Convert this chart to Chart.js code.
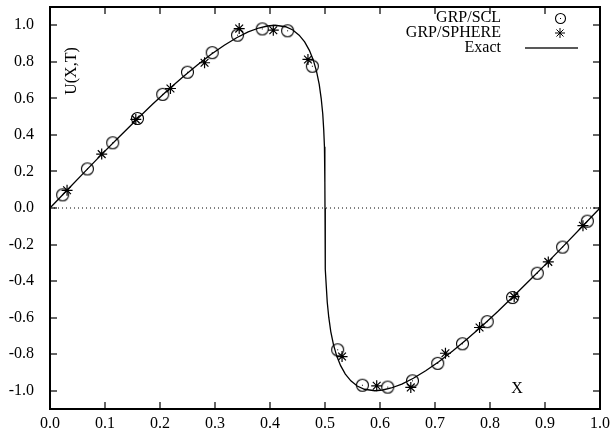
<!DOCTYPE html>
<html>
<head>
<meta charset="utf-8">
<script src="https://cdn.jsdelivr.net/npm/chart.js@4.4.0/dist/chart.umd.min.js"></script>
<style>
  html, body { margin: 0; padding: 0; background: #fff; }
  canvas { display: block; }
</style>
</head>
<body>
<canvas id="chart" width="610" height="442"></canvas>
<script>
// Tick values of the two axes
const xTicks = [0.0, 0.1, 0.2, 0.3, 0.4, 0.5, 0.6, 0.7, 0.8, 0.9, 1.0];
const yTicks = [-1.0, -0.8, -0.6, -0.4, -0.2, 0.0, 0.2, 0.4, 0.6, 0.8, 1.0];

// Exact solution
const exactX = [0.0, 0.0318, 0.0635, 0.0948, 0.1256, 0.1559, 0.1854, 0.2139, 0.2415, 0.2679,
  0.2931, 0.3169, 0.3393, 0.3603, 0.3796, 0.3950, 0.4092, 0.4284, 0.4415, 0.4530,
  0.4630, 0.4716, 0.4788, 0.4847, 0.4895, 0.4931, 0.4959, 0.4977, 0.4990, 0.4996,
  0.4999, 0.5000,
  0.5001, 0.5004, 0.5010, 0.5023, 0.5041, 0.5069, 0.5105, 0.5153, 0.5212, 0.5284,
  0.5370, 0.5470, 0.5585, 0.5716, 0.5908, 0.6050, 0.6204, 0.6397, 0.6607, 0.6831,
  0.7069, 0.7321, 0.7585, 0.7861, 0.8146, 0.8441, 0.8744, 0.9052, 0.9365, 0.9682, 1.0];
const exactY = [0.000, 0.100, 0.199, 0.296, 0.389, 0.479, 0.565, 0.644, 0.717, 0.783,
  0.841, 0.891, 0.932, 0.964, 0.985, 0.996, 1.000, 0.992, 0.974, 0.946,
  0.909, 0.863, 0.809, 0.746, 0.676, 0.599, 0.516, 0.427, 0.335, 0.239,
  0.141, 0.000,
  -0.141, -0.239, -0.335, -0.427, -0.516, -0.599, -0.676, -0.746, -0.809, -0.863,
  -0.909, -0.946, -0.974, -0.992, -1.000, -0.996, -0.985, -0.964, -0.932, -0.891,
  -0.841, -0.783, -0.717, -0.644, -0.565, -0.479, -0.389, -0.296, -0.199, -0.100, 0.000];

// GRP/SCL (circles)
const sclX = [0.023, 0.068, 0.114, 0.159, 0.205, 0.250, 0.295, 0.341, 0.386, 0.432, 0.477,
  0.523, 0.568, 0.614, 0.659, 0.705, 0.750, 0.795, 0.841, 0.886, 0.932, 0.977];
const sclY = [0.072, 0.214, 0.357, 0.490, 0.622, 0.743, 0.850, 0.946, 0.980, 0.970, 0.776,
  -0.776, -0.970, -0.980, -0.946, -0.850, -0.743, -0.622, -0.490, -0.357, -0.214, -0.072];

// GRP/SPHERE (asterisks)
const sphX = [0.031, 0.094, 0.156, 0.219, 0.281, 0.344, 0.406, 0.469,
  0.531, 0.594, 0.656, 0.719, 0.781, 0.844, 0.906, 0.969];
const sphY = [0.097, 0.295, 0.485, 0.654, 0.795, 0.982, 0.973, 0.813,
  -0.813, -0.973, -0.982, -0.795, -0.654, -0.485, -0.295, -0.097];

// Dotted zero line
const zeroX = [0, 1];
const zeroY = [0, 0];

const FONT = '"Liberation Serif", "DejaVu Serif", serif';

function pts(xs, ys) {
  return xs.map((x, i) => ({ x: x, y: ys[i] }));
}

// circle with a small dot in the middle
function circleDot(r) {
  const c = document.createElement('canvas');
  const s = Math.ceil(r * 2 + 5);
  c.width = s; c.height = s;
  const g = c.getContext('2d');
  g.strokeStyle = '#000';
  g.lineWidth = 1.1;
  g.beginPath();
  g.arc(s / 2, s / 2, r, 0, Math.PI * 2);
  g.stroke();
  g.fillStyle = '#000';
  g.fillRect(Math.floor(s / 2), Math.floor(s / 2), 1, 1);
  return c;
}

const circleImg = circleDot(6);
const legendCircle = circleDot(5);

// inward ticks, tick labels, frame, legend and axis labels (gnuplot style)
const gnuplotLook = {
  id: 'gnuplotLook',
  afterDraw(chart) {
    const ctx = chart.ctx;
    const a = chart.chartArea;
    const xs = chart.scales.x, ys = chart.scales.y;
    const t = 7;
    const L = Math.round(a.left), R = Math.round(a.right);
    const T = Math.round(a.top), B = Math.round(a.bottom);
    ctx.save();
    ctx.fillStyle = '#000';

    // frame
    ctx.fillRect(L - 1, T - 1, R - L + 2, 2);
    ctx.fillRect(L - 1, B - 1, R - L + 2, 2);
    ctx.fillRect(L - 1, T - 1, 2, B - T + 2);
    ctx.fillRect(R - 1, T - 1, 2, B - T + 2);

    // inward ticks on all four sides
    xTicks.forEach(v => {
      const px = Math.round(xs.getPixelForValue(v));
      ctx.fillRect(px - 0.6, B - t, 1.2, t);
      ctx.fillRect(px - 0.6, T, 1.2, t);
    });
    yTicks.forEach(v => {
      const py = Math.round(ys.getPixelForValue(v));
      ctx.fillRect(L, py - 0.6, t, 1.2);
      ctx.fillRect(R - t, py - 0.6, t, 1.2);
    });

    // tick labels
    ctx.font = '16px ' + FONT;
    ctx.textBaseline = 'middle';
    ctx.textAlign = 'center';
    xTicks.forEach(v => ctx.fillText(v.toFixed(1), xs.getPixelForValue(v), B + 15));
    ctx.textAlign = 'right';
    yTicks.forEach(v => ctx.fillText(v.toFixed(1), L - 16, ys.getPixelForValue(v)));

    // legend
    const rows = [18, 33, 48];
    ctx.fillText('GRP/SCL', 501, rows[0]);
    ctx.fillText('GRP/SPHERE', 501, rows[1]);
    ctx.fillText('Exact', 501, rows[2]);
    ctx.drawImage(legendCircle, Math.round(560 - legendCircle.width / 2), Math.round(rows[0] - legendCircle.height / 2));
    ctx.strokeStyle = '#000';
    Chart.helpers.drawPoint(ctx, { pointStyle: 'star', radius: 5, borderWidth: 1.2 }, 560, rows[1]);
    ctx.fillRect(525, rows[2] - 0.65, 53, 1.3);

    // axis labels
    ctx.textAlign = 'center';
    ctx.fillText('X', 517, 389);
    ctx.translate(72, 71);
    ctx.rotate(-Math.PI / 2);
    ctx.fillText('U(X,T)', 0, 0);
    ctx.restore();
  }
};

new Chart(document.getElementById('chart').getContext('2d'), {
  type: 'scatter',
  data: {
    datasets: [
      {
        label: 'zero',
        data: pts(zeroX, zeroY),
        showLine: true,
        pointRadius: 0,
        borderColor: '#000',
        borderWidth: 1,
        borderDash: [1, 3]
      },
      {
        label: 'Exact',
        data: pts(exactX, exactY),
        showLine: true,
        pointRadius: 0,
        borderColor: '#000',
        borderWidth: 1.3,
        tension: 0
      },
      {
        label: 'GRP/SCL',
        data: pts(sclX, sclY),
        pointStyle: circleImg,
        pointRadius: 6
      },
      {
        label: 'GRP/SPHERE',
        data: pts(sphX, sphY),
        pointStyle: 'star',
        pointRadius: 5.5,
        borderColor: '#000',
        borderWidth: 1.2
      }
    ]
  },
  options: {
    responsive: false,
    animation: false,
    layout: { padding: { top: 3, right: 10, left: 0, bottom: 0 } },
    plugins: {
      legend: { display: false },
      tooltip: { enabled: false }
    },
    scales: {
      x: {
        type: 'linear',
        min: 0, max: 1,
        afterBuildTicks: s => { s.ticks = xTicks.map(v => ({ value: v })); },
        afterFit: s => { s.height = 33; },
        grid: { display: false },
        border: { display: false },
        ticks: { display: false }
      },
      y: {
        type: 'linear',
        min: -1.1, max: 1.1,
        afterBuildTicks: s => { s.ticks = yTicks.map(v => ({ value: v })); },
        afterFit: s => { s.width = 50; },
        grid: { display: false },
        border: { display: false },
        ticks: { display: false }
      }
    }
  },
  plugins: [gnuplotLook]
});
</script>
</body>
</html>
